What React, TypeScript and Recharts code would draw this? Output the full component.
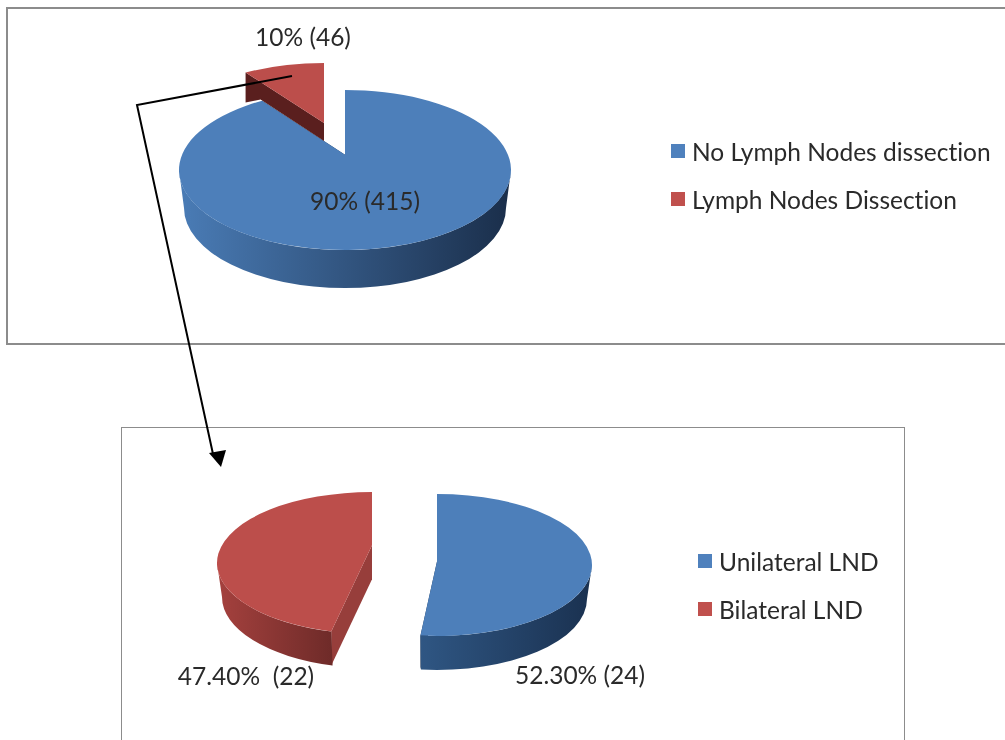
import { Cell, Legend, Pie, PieChart } from 'recharts';

const W = 1005;
const H = 740;
const FONT = 'Lato, "Open Sans", sans-serif';
const INK = '#2a2a2a';

// top pie: all patients
const allNames = ['No Lymph Nodes dissection', 'Lymph Nodes Dissection'];
const allCounts = [415, 46];
const allLabels = ['90% (415)', '10% (46)'];

// bottom pie: the dissected group
const lndNames = ['Unilateral LND', 'Bilateral LND'];
const lndCounts = [24, 22];
const lndLabels = ['52.30% (24)', '47.40%  (22)'];

const BLUE = '#4d7fba';
const RED = '#bc4e4b';

interface SliceLook {
  fill: string;
  legendFill: string;
  cutFill: string;
  wall: [string, string];
  dx: number; // explode offset
  dy: number;
  persp: number; // how far the apex sits above the ellipse centre, as share of ry
  edgeShift: [number, number]; // degrees, the original drawing is not quite true to its values
  cutDepth: [number, number]; // at the rim, at the apex
  cutNotch?: [number, number]; // where the next slice hides the cut face, relative to its bottom corner
  label: [number, number];
}

const allLook: SliceLook[] = [
  { fill: BLUE, legendFill: '#4f81bd', cutFill: '#1d3350', wall: ['#4a7cb6', '#1a2e4a'], dx: 0, dy: 0, persp: -0.19, edgeShift: [0, 0], cutDepth: [38, 38], label: [365, 200] },
  { fill: RED, legendFill: '#c0504d', cutFill: '#5a1f1e', wall: ['#a5403d', '#702a28'], dx: -21, dy: -27, persp: -0.25, edgeShift: [0, 0], cutDepth: [30, 18], cutNotch: [15, -3], label: [303, 36] },
];

const lndLook: SliceLook[] = [
  { fill: BLUE, legendFill: '#4f81bd', cutFill: '#1d3350', wall: ['#2f5683', '#1a3150'], dx: 33, dy: 1, persp: -0.05, edgeShift: [0, -2], cutDepth: [34, 34], label: [580, 674] },
  { fill: RED, legendFill: '#c0504d', cutFill: '#973e3b', wall: ['#a5413e', '#6f2b29'], dx: -32, dy: -1, persp: -0.25, edgeShift: [4, 0], cutDepth: [34, 34], label: [246, 675] },
];

const rad = (d: number) => (d * Math.PI) / 180;

// angle on the flat disc -> angle on the drawn ellipse (clockwise from 12 o'clock)
function warp(theta: number, c: number) {
  if (Math.abs(theta % 360) < 1e-6) return Math.round(theta);
  const a = Math.sin(rad(theta));
  const b = -Math.cos(rad(theta));
  const d = 1 + c * b;
  const x = (a * Math.sqrt(1 - c * c)) / d;
  const y = (b + c) / d;
  const phi = (Math.atan2(x, -y) * 180) / Math.PI;
  return phi < 0 ? phi + 360 : phi;
}

function makeSlice(looks: SliceLook[], names: string[], tilt: number, depth: number, shrink: number) {
  return function Slice3D(props: any) {
    const look = looks[names.indexOf(props.name)];
    const rx: number = props.outerRadius;
    const ry = rx * tilt;
    const cx: number = props.cx + look.dx;
    const cy: number = props.cy + look.dy;
    const t0 = 90 - props.startAngle + look.edgeShift[0];
    const t1 = 90 - props.endAngle + look.edgeShift[1];
    const p0 = warp(t0, look.persp);
    const p1 = warp(t1, look.persp);

    const top = (phi: number) => [cx + rx * Math.sin(rad(phi)), cy - ry * Math.cos(rad(phi))];
    const low = (phi: number) => [cx + (rx - shrink) * Math.sin(rad(phi)), cy + depth - ry * Math.cos(rad(phi))];
    const apex = [cx, cy + ry * look.persp];
    const s = top(p0);
    const e = top(p1);
    const large = p1 - p0 > 180 ? 1 : 0;
    const face = `M${apex} L${s} A${rx} ${ry} 0 ${large} 1 ${e} Z`;

    const [rimDepth, apexDepth] = look.cutDepth;
    const cut = (p: number[], notch?: [number, number]) => {
      const corner = [p[0], p[1] + rimDepth];
      const bend = notch ? ` L${corner[0] + notch[0]} ${corner[1] + notch[1]}` : '';
      return `M${apex} L${p} L${corner}${bend} L${apex[0]} ${apex[1] + apexDepth} Z`;
    };

    const lo = Math.max(p0, 90);
    const hi = Math.min(p1, 270);
    const gid = `wall-${props.name.replace(/\s/g, '')}`;
    const wall =
      lo < hi
        ? `M${top(lo)} A${rx} ${ry} 0 0 1 ${top(hi)} L${low(hi)} A${rx - shrink} ${ry} 0 0 0 ${low(lo)} Z`
        : '';

    return (
      <g>
        <defs>
          <linearGradient id={gid} gradientUnits="userSpaceOnUse" x1={top(hi)[0]} x2={top(lo)[0]} y1={0} y2={0}>
            <stop offset="0" stopColor={look.wall[0]} />
            <stop offset="1" stopColor={look.wall[1]} />
          </linearGradient>
        </defs>
        <path d={cut(s, look.cutNotch)} fill={look.cutFill} />
        <path d={cut(e)} fill={look.cutFill} />
        {wall && <path d={wall} fill={`url(#${gid})`} />}
        <path d={face} fill={look.fill} />
      </g>
    );
  };
}

function makeLabel(looks: SliceLook[], names: string[], labels: string[]) {
  return function SliceLabel(props: any) {
    const i = names.indexOf(props.name);
    const [x, y] = looks[i].label;
    return (
      <text
        x={x}
        y={y}
        textAnchor="middle"
        dominantBaseline="central"
        fontSize={24.5}
        fontFamily={FONT}
        fill={INK}
        style={{ whiteSpace: 'pre', fontVariantLigatures: 'none' }}
      >
        {labels[i]}
      </text>
    );
  };
}

function makeLegend(x: number, y: number) {
  return function SideLegend({ payload }: any) {
    return (
      <div style={{ position: 'absolute', left: x, top: y, fontFamily: FONT, fontSize: 24.5, color: INK, fontVariantLigatures: 'none' }}>
        {(payload ?? []).map((p: any) => (
          <div key={p.value} style={{ display: 'flex', alignItems: 'center', height: 48, whiteSpace: 'nowrap' }}>
            <span style={{ width: 14, height: 14, background: p.color, marginRight: 7, flex: 'none' }} />
            {p.value}
          </div>
        ))}
      </div>
    );
  };
}

interface PanelProps {
  names: string[];
  counts: number[];
  labels: string[];
  looks: SliceLook[];
  cx: number;
  cy: number;
  radius: number;
  tilt: number;
  depth: number;
  shrink: number;
  legendX: number;
  legendY: number;
}

function Panel({ names, counts, labels, looks, cx, cy, radius, tilt, depth, shrink, legendX, legendY }: PanelProps) {
  const data = names.map((name, i) => ({ name, value: counts[i] }));
  return (
    <PieChart width={W} height={H} margin={{ top: 0, right: 0, bottom: 0, left: 0 }} style={{ position: 'absolute', left: 0, top: 0 }}>
      <Pie
        data={data}
        dataKey="value"
        nameKey="name"
        cx={cx}
        cy={cy}
        outerRadius={radius}
        startAngle={90}
        endAngle={-270}
        stroke="none"
        isAnimationActive={false}
        shape={makeSlice(looks, names, tilt, depth, shrink)}
        label={makeLabel(looks, names, labels)}
        labelLine={false}
      >
        {looks.map((l, i) => (
          <Cell key={i} fill={l.legendFill} />
        ))}
      </Pie>
      <Legend
        content={makeLegend(legendX, legendY)}
        itemSorter={(item: any) => names.indexOf(item.value)}
        wrapperStyle={{ left: 0, top: 0, bottom: 'auto', width: 0, height: 0 }}
      />
    </PieChart>
  );
}

export default function App() {
  return (
    <div style={{ position: 'absolute', left: 0, top: 0, width: W, height: H, overflow: 'hidden', background: '#fff', filter: 'blur(0.4px)' }}>
      {/* frames of the two pasted charts, both run off the page */}
      <div style={{ position: 'absolute', left: 6, top: 7, width: 1100, height: 334, border: '2px solid #8c8c8c' }} />
      <div style={{ position: 'absolute', left: 121, top: 427, width: 782, height: 400, border: '1px solid #8c8c8c' }} />

      <Panel
        names={allNames}
        counts={allCounts}
        labels={allLabels}
        looks={allLook}
        cx={345}
        cy={170}
        radius={166}
        tilt={0.482}
        depth={38}
        shrink={5}
        legendX={671}
        legendY={127}
      />
      <Panel
        names={lndNames}
        counts={lndCounts}
        labels={lndLabels}
        looks={lndLook}
        cx={404}
        cy={564}
        radius={155}
        tilt={0.458}
        depth={34}
        shrink={5}
        legendX={698}
        legendY={537}
      />

      {/* arrow from the red slice down to the second chart */}
      <svg width={W} height={H} style={{ position: 'absolute', left: 0, top: 0, pointerEvents: 'none' }}>
        <polyline points="292,76 137,105 213,454" fill="none" stroke="#000" strokeWidth={2} />
        <polygon points="209,453 226,450 221,467" fill="#000" />
      </svg>
    </div>
  );
}
